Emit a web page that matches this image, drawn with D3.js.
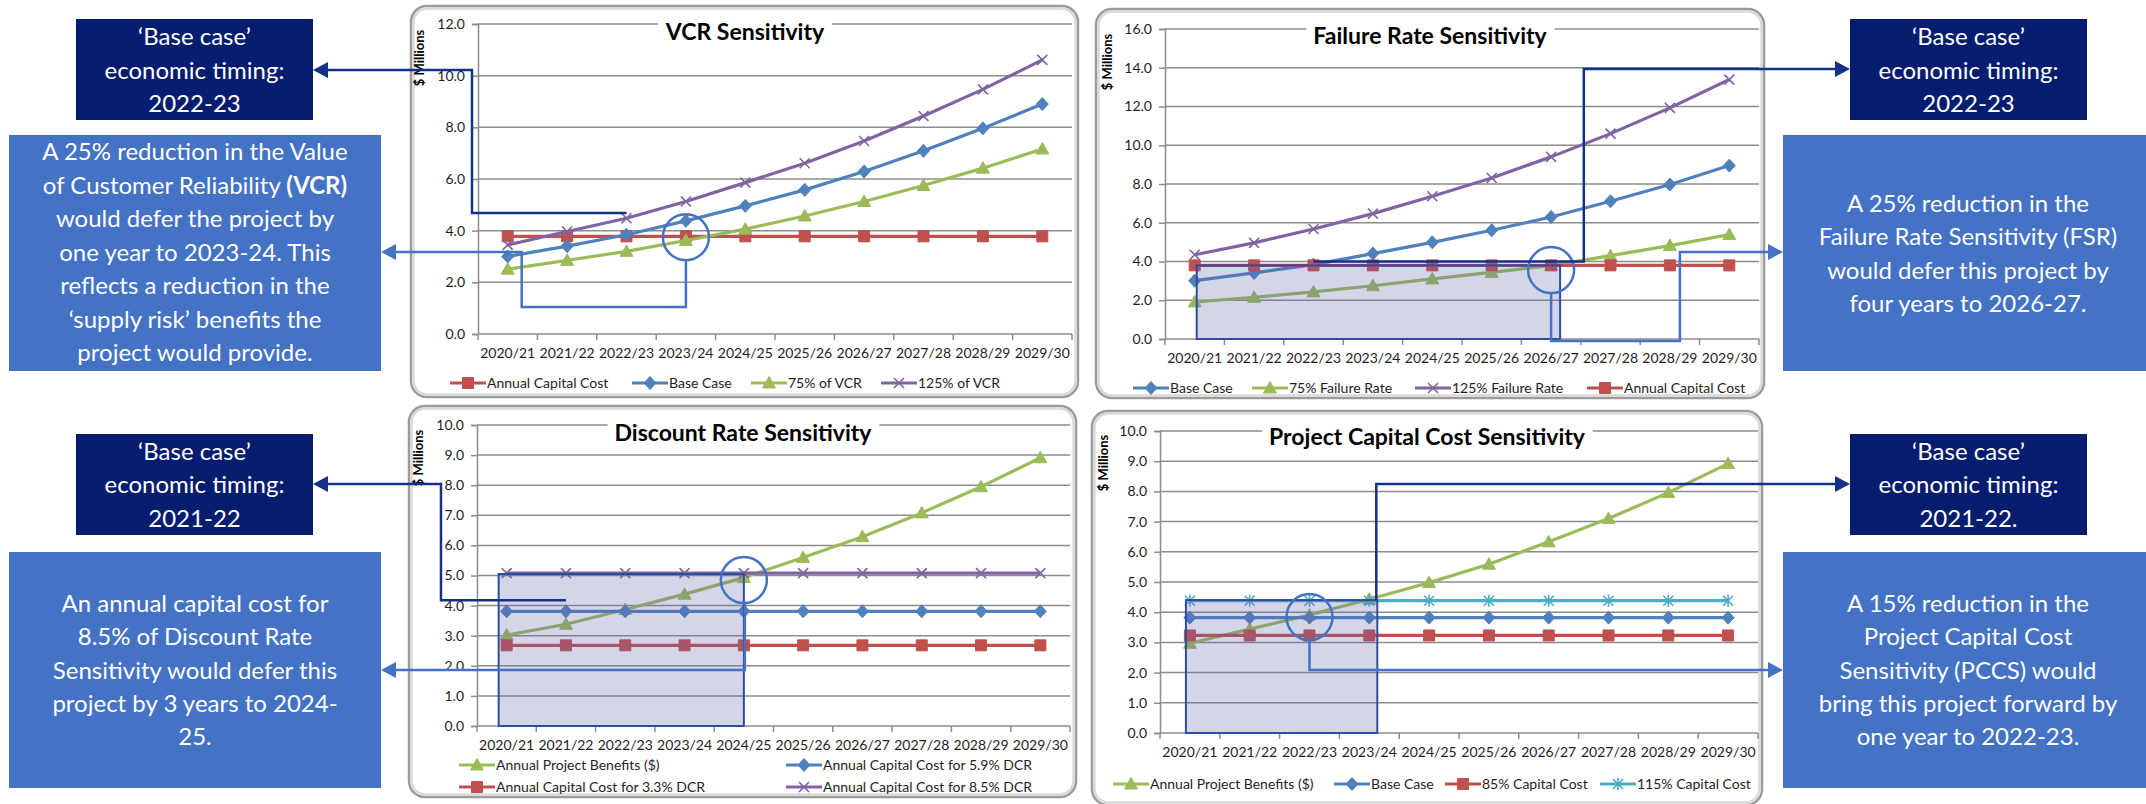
<!DOCTYPE html>
<html><head><meta charset="utf-8">
<script src="https://cdn.jsdelivr.net/npm/d3@7"></script>
<style>html,body{margin:0;padding:0;background:#fff;overflow:hidden}svg{display:block}</style>
</head><body>
<svg id="c" width="2146" height="804"></svg>
<script>
// ---------- DATA ----------
const years = ["2020/21","2021/22","2022/23","2023/24","2024/25","2025/26","2026/27","2027/28","2028/29","2029/30"];

// VCR Sensitivity ($ Millions)
const vcrTicks = [0, 2, 4, 6, 8, 10, 12];
const vcrAnnualCapitalCost = [3.78, 3.78, 3.78, 3.78, 3.78, 3.78, 3.78, 3.78, 3.78, 3.78];
const vcrBaseCase = [3.00, 3.40, 3.84, 4.38, 4.96, 5.58, 6.29, 7.09, 7.96, 8.90];
const vcr75 = [2.51, 2.85, 3.20, 3.62, 4.06, 4.57, 5.13, 5.75, 6.42, 7.16];
const vcr125 = [3.45, 3.97, 4.48, 5.13, 5.86, 6.61, 7.47, 8.44, 9.47, 10.61];

// Failure Rate Sensitivity
const frTicks = [0, 2, 4, 6, 8, 10, 12, 14, 16];
const frBaseCase = [3.01, 3.41, 3.84, 4.41, 4.99, 5.61, 6.30, 7.11, 7.97, 8.95];
const fr75 = [1.91, 2.15, 2.43, 2.75, 3.10, 3.44, 3.79, 4.30, 4.82, 5.39];
const fr125 = [4.35, 4.96, 5.68, 6.47, 7.37, 8.31, 9.40, 10.60, 11.93, 13.39];
const frAnnualCapitalCost = [3.80, 3.80, 3.80, 3.80, 3.80, 3.80, 3.80, 3.80, 3.80, 3.80];

// Discount Rate Sensitivity
const drTicks = [0, 1, 2, 3, 4, 5, 6, 7, 8, 9, 10];
const drBenefits = [3.02, 3.38, 3.87, 4.38, 4.93, 5.60, 6.29, 7.08, 7.95, 8.91];
const drCost59 = [3.81, 3.81, 3.81, 3.81, 3.81, 3.81, 3.81, 3.81, 3.81, 3.81];
const drCost33 = [2.68, 2.68, 2.68, 2.68, 2.68, 2.68, 2.68, 2.68, 2.68, 2.68];
const drCost85 = [5.08, 5.08, 5.08, 5.08, 5.08, 5.08, 5.08, 5.08, 5.08, 5.08];

// Project Capital Cost Sensitivity
const pcTicks = [0, 1, 2, 3, 4, 5, 6, 7, 8, 9, 10];
const pcBenefits = [2.97, 3.44, 3.91, 4.43, 4.98, 5.59, 6.33, 7.10, 7.96, 8.92];
const pcBaseCase = [3.82, 3.82, 3.82, 3.82, 3.82, 3.82, 3.82, 3.82, 3.82, 3.82];
const pc85 = [3.23, 3.23, 3.23, 3.23, 3.23, 3.23, 3.23, 3.23, 3.23, 3.23];
const pc115 = [4.38, 4.38, 4.38, 4.38, 4.38, 4.38, 4.38, 4.38, 4.38, 4.38];

// ---------- STYLE ----------
const FONT = "Lato, 'Open Sans', sans-serif";
const COL = {blue:"#4F81BD", red:"#C0504D", green:"#9BBB59", purple:"#8064A2", cyan:"#4BACC6"};
const NAVY_BOX = "#041d6e", LIGHT_BOX = "#4472C4", NAVY_LINE = "#14318a", LIGHT_LINE = "#4472C4";
const GRID = "#8c8c8c";

const svg = d3.select("#c");

function markerPath(type){
  switch(type){
    case "square":   return "M-5.5,-5.5h11v11h-11Z";
    case "diamond":  return "M0,-6.5L6,0L0,6.5L-6,0Z";
    case "triangle": return "M0,-6.5L6.5,5L-6.5,5Z";
    case "x":        return "M-5,-5L5,5M-5,5L5,-5";
    case "star":     return "M-5,-5L5,5M-5,5L5,-5M0,-6V6";
  }
}
function drawMarker(sel, type, color){
  const stroked = (type === "x" || type === "star");
  sel.append("path").attr("d", markerPath(type))
    .attr("fill", stroked ? "none" : color)
    .attr("stroke", color).attr("stroke-width", stroked ? 1.6 : 1);
}

function drawChart(c){
  const g = svg.append("g");
  const [fx0, fy0, fx1, fy1] = c.frame;
  g.append("rect").attr("x", fx0+1).attr("y", fy0+1).attr("width", fx1-fx0-2).attr("height", fy1-fy0-2)
    .attr("rx", 16).attr("fill", "#fff").attr("stroke", "#9b9b9b").attr("stroke-width", 2.5);
  g.append("rect").attr("x", fx0+3.5).attr("y", fy0+3.5).attr("width", fx1-fx0-7).attr("height", fy1-fy0-7)
    .attr("rx", 14).attr("fill", "none").attr("stroke", "#d9d9d9").attr("stroke-width", 2.5);

  const x = d3.scaleBand().domain(years).range([c.x0, c.x1]).padding(0);
  const y = d3.scaleLinear().domain([0, d3.max(c.ticks)]).range([c.yB, c.yT]);
  const xc = i => x(years[i]) + x.bandwidth()/2;

  // gridlines
  g.append("g").selectAll("line").data(c.ticks).join("line")
    .attr("x1", c.x0).attr("x2", c.x1).attr("y1", d => y(d)).attr("y2", d => y(d))
    .attr("stroke", GRID).attr("stroke-width", 1.5);

  // y axis
  const ya = g.append("g").attr("transform", `translate(${c.x0},0)`)
    .call(d3.axisLeft(y).tickValues(c.ticks).tickFormat(d3.format(".1f")).tickSize(6).tickPadding(7));
  ya.attr("font-family", FONT).attr("font-size", 14);
  ya.select(".domain").attr("stroke", GRID).attr("stroke-width", 1.5);
  ya.selectAll(".tick line").attr("stroke", GRID).attr("stroke-width", 1.5);
  ya.selectAll("text").attr("fill", "#1e1e1e");

  // x axis
  const xa = g.append("g").attr("transform", `translate(0,${c.yB})`)
    .call(d3.axisBottom(x).tickSize(0).tickPadding(14));
  xa.attr("font-family", FONT).attr("font-size", 14);
  xa.select(".domain").remove();
  xa.selectAll("text").attr("fill", "#1e1e1e");
  const bounds = years.map(d => x(d)).concat([c.x1]);
  g.append("g").selectAll("line").data(bounds).join("line")
    .attr("x1", d => d).attr("x2", d => d).attr("y1", c.yB).attr("y2", c.yB + 6)
    .attr("stroke", GRID).attr("stroke-width", 1.5);

  // title with white background
  const tg = g.append("g");
  const tt = tg.append("text").attr("x", c.titleX).attr("y", c.titleY).attr("text-anchor", "middle")
    .attr("font-family", FONT).attr("font-weight", "bold").attr("font-size", 23).attr("fill", "#000").text(c.title);
  const bb = tt.node().getBBox();
  tg.insert("rect", "text").attr("x", bb.x - 7).attr("y", bb.y - 2).attr("width", bb.width + 14).attr("height", bb.height + 4).attr("fill", "#fff");

  // y label
  g.append("text").attr("transform", `translate(${c.ylab[0]},${c.ylab[1]}) rotate(-90)`)
    .attr("text-anchor", "middle").attr("dy", "0.35em").attr("font-family", FONT).attr("font-weight", "bold")
    .attr("font-size", 13).attr("fill", "#000").text("$ Millions");

  // series
  const line = d3.line().x((d, i) => xc(i)).y(d => y(d));
  c.series.forEach(s => {
    const sg = g.append("g");
    sg.append("path").datum(s.values).attr("d", line).attr("fill", "none")
      .attr("stroke", s.color).attr("stroke-width", 3.2).attr("stroke-linejoin", "round");
    s.values.forEach((v, i) => {
      const m = sg.append("g").attr("transform", `translate(${xc(i)},${y(v)})`);
      drawMarker(m, s.marker, s.color);
    });
  });

  // legend
  c.series.forEach(s => {
    const [lx, ly] = s.legend;
    const lg = g.append("g").attr("transform", `translate(${lx},${ly})`);
    lg.append("line").attr("x1", 0).attr("x2", 36).attr("stroke", s.color).attr("stroke-width", 3.2);
    drawMarker(lg.append("g").attr("transform", "translate(18,0)"), s.marker, s.color);
    lg.append("text").attr("x", 37).attr("dy", "0.35em").attr("font-family", FONT).attr("font-size", 14)
      .attr("fill", "#1e1e1e").text(s.name);
  });

  return {g, x, y, xc, bw: x.bandwidth(), left: c.x0};
}

// ---------- CHARTS ----------
const c1 = drawChart({
  frame: [410, 5, 1079, 398], x0: 478, x1: 1072, yT: 24, yB: 334, ticks: vcrTicks,
  title: "VCR Sensitivity", titleX: 745, titleY: 40, ylab: [419, 58],
  series: [
    {name: "Annual Capital Cost", values: vcrAnnualCapitalCost, color: COL.red, marker: "square", legend: [450, 383]},
    {name: "Base Case", values: vcrBaseCase, color: COL.blue, marker: "diamond", legend: [632, 383]},
    {name: "75% of VCR", values: vcr75, color: COL.green, marker: "triangle", legend: [751, 383]},
    {name: "125% of VCR", values: vcr125, color: COL.purple, marker: "x", legend: [881, 383]}
  ]
});
const c2 = drawChart({
  frame: [1095, 8, 1765, 399], x0: 1165, x1: 1759, yT: 29, yB: 339, ticks: frTicks,
  title: "Failure Rate Sensitivity", titleX: 1430, titleY: 44, ylab: [1107, 62],
  series: [
    {name: "Base Case", values: frBaseCase, color: COL.blue, marker: "diamond", legend: [1133, 388]},
    {name: "75% Failure Rate", values: fr75, color: COL.green, marker: "triangle", legend: [1252, 388]},
    {name: "125% Failure Rate", values: fr125, color: COL.purple, marker: "x", legend: [1415, 388]},
    {name: "Annual Capital Cost", values: frAnnualCapitalCost, color: COL.red, marker: "square", legend: [1587, 388]}
  ]
});
const c3 = drawChart({
  frame: [408, 405, 1077, 798], x0: 477, x1: 1070, yT: 425, yB: 726, ticks: drTicks,
  title: "Discount Rate Sensitivity", titleX: 743, titleY: 441, ylab: [418, 458],
  series: [
    {name: "Annual Project Benefits ($)", values: drBenefits, color: COL.green, marker: "triangle", legend: [459, 765]},
    {name: "Annual Capital Cost for 5.9% DCR", values: drCost59, color: COL.blue, marker: "diamond", legend: [786, 765]},
    {name: "Annual Capital Cost for 3.3% DCR", values: drCost33, color: COL.red, marker: "square", legend: [459, 787]},
    {name: "Annual Capital Cost for 8.5% DCR", values: drCost85, color: COL.purple, marker: "x", legend: [786, 787]}
  ]
});
const c4 = drawChart({
  frame: [1091, 410, 1763, 806], x0: 1160, x1: 1758, yT: 431, yB: 733, ticks: pcTicks,
  title: "Project Capital Cost Sensitivity", titleX: 1427, titleY: 445, ylab: [1103, 463],
  series: [
    {name: "Annual Project Benefits ($)", values: pcBenefits, color: COL.green, marker: "triangle", legend: [1113, 784]},
    {name: "Base Case", values: pcBaseCase, color: COL.blue, marker: "diamond", legend: [1334, 784]},
    {name: "85% Capital Cost", values: pc85, color: COL.red, marker: "square", legend: [1445, 784]},
    {name: "115% Capital Cost", values: pc115, color: COL.cyan, marker: "star", legend: [1600, 784]}
  ]
});

// ---------- ANNOTATIONS ----------
const ann = svg.append("g");
function shade(c, xa, xb, v){
  ann.append("rect").attr("x", xa).attr("y", c.y(v)).attr("width", xb - xa).attr("height", c.y(0) - c.y(v))
    .attr("fill", "rgba(100,100,175,0.27)").attr("stroke", "#2f4d9c").attr("stroke-width", 2);
}
function ring(cx, cy){
  ann.append("ellipse").attr("cx", cx).attr("cy", cy).attr("rx", 23).attr("ry", 23)
    .attr("fill", "none").attr("stroke", LIGHT_LINE).attr("stroke-width", 2.5);
}
function connector(pts, color){
  ann.append("path").attr("d", d3.line()(pts)).attr("fill", "none").attr("stroke", color)
    .attr("stroke-width", 2.5).attr("stroke-linejoin", "miter");
}
function arrowHead(tx, ty, dir, color){
  const L = 15, W = 8;
  ann.append("path").attr("d", `M${tx},${ty}L${tx - dir*L},${ty - W}L${tx - dir*L},${ty + W}Z`).attr("fill", color);
}

// Chart 1
{
  const c = c1;
  ring(c.xc(3), c.y(3.75));
  connector([[325, 70], [c.left - 6, 70], [c.left - 6, c.y(4.68)], [c.xc(2), c.y(4.68)]], NAVY_LINE);
  arrowHead(313, 70, -1, NAVY_LINE);
  connector([[393, 252], [c.xc(0) + 14, 252], [c.xc(0) + 14, c.y(1.05)], [c.xc(3), c.y(1.05)], [c.xc(3), c.y(3.75) + 23]], LIGHT_LINE);
  arrowHead(381, 252, -1, LIGHT_LINE);
}
// Chart 2
{
  const c = c2;
  shade(c, c.xc(0) + 2, c.xc(6) + 9, 3.8);
  ring(c.xc(6), c.y(3.56));
  connector([[1838, 69], [c.x(years[7]) + 3, 69], [c.x(years[7]) + 3, c.y(4.0)], [c.xc(2), c.y(4.0)]], NAVY_LINE);
  arrowHead(1850, 69, 1, NAVY_LINE);
  connector([[1771, 252], [c.xc(8) + 10, 252], [c.xc(8) + 10, c.y(-0.1)], [c.xc(6), c.y(-0.1)], [c.xc(6), c.y(3.56) + 23]], LIGHT_LINE);
  arrowHead(1783, 252, 1, LIGHT_LINE);
}
// Chart 3
{
  const c = c3;
  shade(c, c.xc(0) - 8, c.xc(4), 5.05);
  ring(c.xc(4), c.y(4.85));
  connector([[325, 484], [c.left - 36, 484], [c.left - 36, c.y(4.18)], [c.xc(1), c.y(4.18)]], NAVY_LINE);
  arrowHead(313, 484, -1, NAVY_LINE);
  connector([[393, 670], [c.xc(4) + 1, 670], [c.xc(4) + 1, c.y(4.85) + 23]], LIGHT_LINE);
  arrowHead(381, 670, -1, LIGHT_LINE);
}
// Chart 4
{
  const c = c4;
  shade(c, c.xc(0) - 4, c.xc(3) + 8, 4.4);
  ring(c.xc(2), c.y(3.84));
  connector([[1838, 484], [c.xc(3) + 7, 484], [c.xc(3) + 7, c.y(4.4)]], NAVY_LINE);
  arrowHead(1850, 484, 1, NAVY_LINE);
  connector([[c.xc(2), c.y(3.84) + 23], [c.xc(2), 670], [1771, 670]], LIGHT_LINE);
  arrowHead(1783, 670, 1, LIGHT_LINE);
}

// ---------- TEXT BOXES ----------
function textBox(x0, y0, x1, y1, fill, cx, baselines, lines){
  svg.append("rect").attr("x", x0).attr("y", y0).attr("width", x1 - x0).attr("height", y1 - y0).attr("fill", fill);
  lines.forEach((ln, i) => {
    const t = svg.append("text").attr("x", cx).attr("y", baselines[i]).attr("text-anchor", "middle")
      .attr("font-family", FONT).attr("font-size", 24).attr("fill", "#fff");
    (Array.isArray(ln) ? ln : [[ln, false]]).forEach(([s, b]) => {
      t.append("tspan").attr("font-weight", b ? "bold" : "normal").text(s);
    });
  });
}
const L3 = [45, 79, 112], L3b = [460, 493, 527];
textBox(76, 19, 313, 120, NAVY_BOX, 194.5, L3, ["\u2018Base case\u2019", "economic timing:", "2022-23"]);
textBox(9, 135, 381, 371, LIGHT_BOX, 195, [160, 194, 227, 261, 294, 328, 361], [
  "A 25% reduction in the Value",
  [["of Customer Reliability ", false], ["(VCR)", true]],
  "would defer the project by",
  "one year to 2023-24. This",
  "reflects a reduction in the",
  "\u2018supply risk\u2019 benefits the",
  "project would provide."
]);
textBox(1850, 19, 2087, 120, NAVY_BOX, 1968.5, L3, ["\u2018Base case\u2019", "economic timing:", "2022-23"]);
textBox(1783, 135, 2160, 371, LIGHT_BOX, 1968, [212, 245, 279, 312], [
  "A 25% reduction in the",
  "Failure Rate Sensitivity (FSR)",
  "would defer this project by",
  "four years to 2026-27."
]);
textBox(76, 434, 313, 535, NAVY_BOX, 194.5, L3b, ["\u2018Base case\u2019", "economic timing:", "2021-22"]);
textBox(9, 552, 381, 788, LIGHT_BOX, 195, [612, 645, 679, 712, 745], [
  "An annual capital cost for",
  "8.5% of Discount Rate",
  "Sensitivity would defer this",
  "project by 3 years to 2024-",
  "25."
]);
textBox(1850, 434, 2087, 535, NAVY_BOX, 1968.5, L3b, ["\u2018Base case\u2019", "economic timing:", "2021-22."]);
textBox(1783, 552, 2160, 788, LIGHT_BOX, 1968, [612, 645, 679, 712, 745], [
  "A 15% reduction in the",
  "Project Capital Cost",
  "Sensitivity (PCCS) would",
  "bring this project forward by",
  "one year to 2022-23."
]);
</script>
</body></html>
